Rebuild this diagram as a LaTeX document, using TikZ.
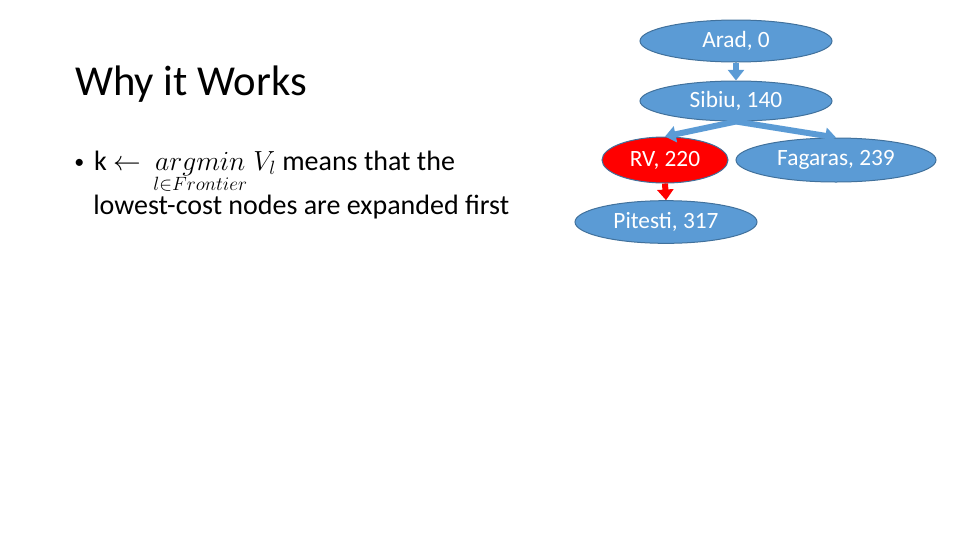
\documentclass[tikz,border=0pt]{standalone}
\usepackage{amsmath, amssymb}
\usepackage{xcolor}
\usepackage{fontspec}
\setmainfont{Carlito}
\usepackage{tikz}
\usetikzlibrary{shapes.geometric, arrows.meta}

\definecolor{nodeblue}{HTML}{5B9BD5}
\definecolor{edgeblue}{HTML}{41719C}
\definecolor{nodered}{HTML}{FF0000}

\tikzset{
  city/.style={ellipse, draw=edgeblue, line width=0.75pt, fill=nodeblue, text=white,
    inner sep=0pt, font=\fontsize{17.5}{21}\selectfont},
  blockarrow/.style={line width=4.5pt, -{Triangle[width=12pt,length=8pt]}},
  bodytext/.style={anchor=base west, inner sep=0pt, font=\fontsize{21}{25}\selectfont}
}

\begin{document}
\begin{tikzpicture}[x=0.75pt, y=-0.75pt]
\useasboundingbox (0,0) rectangle (960,540);

\node[anchor=base west, inner sep=0pt, font=\fontsize{32}{38}\selectfont] (title) at (75,95) {Why it Works};

\node[bodytext] (line1) at (74,170)
  {{\fontsize{15}{15}\selectfont\raisebox{1.5pt}{\textbullet}}\hspace{0.35em}k $\leftarrow$\ \ $\underset{\smash{\raisebox{1pt}{$\scriptstyle l\in Frontier$}}}{argmin}\ V_l$ means that the};
\node[bodytext] (line2) at (93,214) {lowest-cost nodes are expanded first};

\node[city, minimum width=144pt, minimum height=31.5pt] (arad) at (736,41) {Arad, 0};
\node[city, minimum width=144pt, minimum height=30pt] (sibiu) at (736,101) {Sibiu, 140};
\node[city, fill=nodered, minimum width=94.5pt, minimum height=34.5pt] (rv) at (665,160) {RV, 220};
\node[city, minimum width=150pt, minimum height=33pt] (fagaras) at (836,160) {Fagaras, 239};
\node[city, minimum width=136.5pt, minimum height=32pt] (pitesti) at (666,222) {Pitesti, 317};

\draw[blockarrow, nodeblue] (arad.south) -- (sibiu.north);
\draw[blockarrow, nodeblue] (sibiu.south) -- (rv.north);
\draw[blockarrow, nodeblue] (sibiu.south) -- (fagaras.north);
\draw[blockarrow, nodered] (rv.south) -- (pitesti.north);
\end{tikzpicture}
\end{document}
